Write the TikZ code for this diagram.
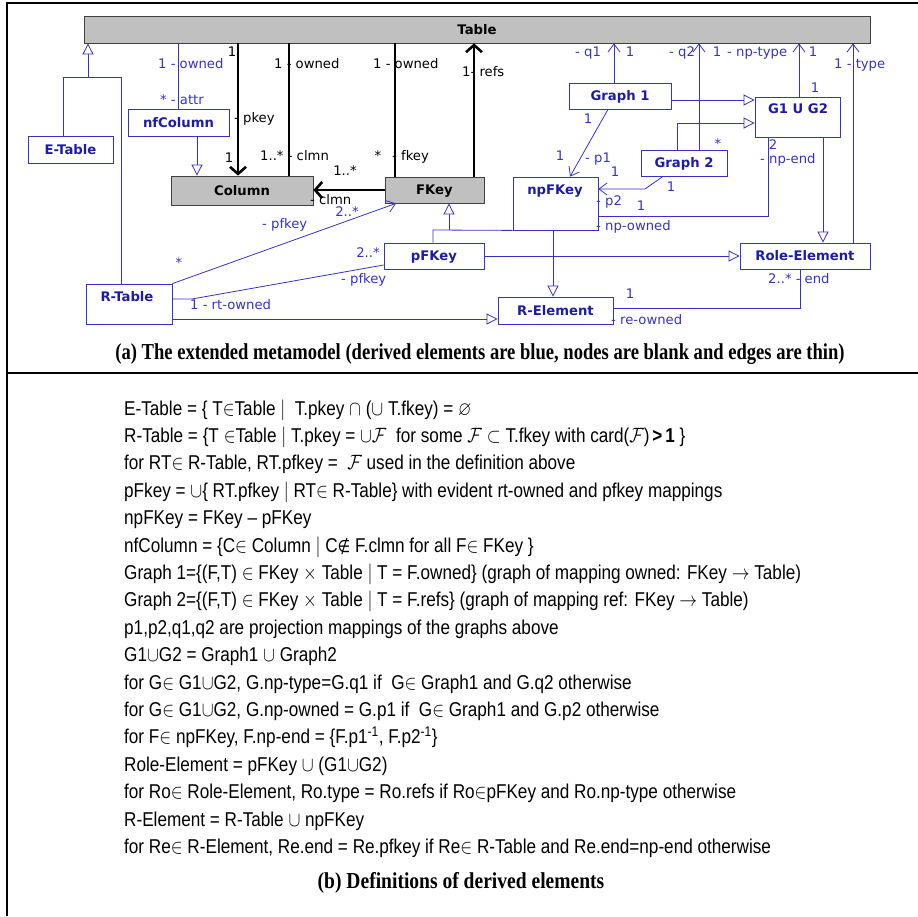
\documentclass[tikz,border=0pt]{standalone}
\usepackage{graphicx}
\usepackage{amssymb}
\usepackage{fontspec}
\setmainfont{Liberation Sans}
\newfontfamily\dv{DejaVu Sans}
\newfontfamily\capf{Liberation Serif}
\usetikzlibrary{arrows.meta}
\definecolor{umlblue}{RGB}{51,51,204}
\definecolor{umltext}{RGB}{28,28,168}
\definecolor{umlgray}{RGB}{192,192,192}
\newcommand{\dl}[1]{\scalebox{0.857}[1]{\fontsize{20}{24}\selectfont #1}}
\newcommand{\cpt}[2]{\scalebox{#1}[1]{\capf\bfseries\fontsize{22.8}{26}\selectfont #2}}
\begin{document}
\begin{tikzpicture}[x=1pt,y=-1pt,
  box/.style={draw=umlblue, line width=0.8pt, fill=white, inner sep=0pt,
    font=\dv\fontsize{13.2}{15}\selectfont\bfseries, text=umltext,
    text height=9.6pt, text depth=0pt},
  gbox/.style={draw=black!75, line width=0.8pt, fill=umlgray, inner sep=0pt,
    font=\dv\fontsize{13.2}{15}\selectfont\bfseries, text=black,
    text height=9.6pt, text depth=0pt},
  btext/.style={inner sep=0pt, font=\dv\fontsize{13.2}{15}\selectfont\bfseries,
    text=umltext, text height=9.6pt, text depth=0pt},
  lab/.style={inner sep=0pt, font=\dv\fontsize{13.2}{15}\selectfont,
    text=umlblue, text height=9.6pt, text depth=0pt},
  blab/.style={lab, text=black},
  bl/.style={draw=umlblue, line width=0.8pt},
  gen/.style={bl, -{Triangle[length=11pt,width=11pt,fill=white]}},
  nav/.style={bl, -{Straight Barb[length=8pt,width=12pt]}},
  blk/.style={draw=black, line width=2.6pt},
  blkarr/.style={blk, -{Straight Barb[length=7pt,width=16pt]}},
  defl/.style={inner sep=0pt, anchor=base west},
  capn/.style={inner sep=0pt, anchor=base}
]
\useasboundingbox (0,0) rectangle (918,916);
% frame
\draw[line width=1.2pt] (918,3) -- (7,3) -- (7,916);
\draw[line width=1.2pt] (7,373) -- (918,373);

% boxes
\node[gbox, minimum width=786pt, minimum height=27pt] (table) at (477,29.5) {Table};
\node[box, minimum width=85pt, minimum height=27pt] (etable) at (70.5,149.5) {E-Table};
\node[box, minimum width=101pt, minimum height=27pt] (nfcol) at (178.5,122.5) {nfColumn};
\node[gbox, minimum width=142pt, minimum height=29pt] (column) at (242,190.5) {Column};
\node[gbox, minimum width=99pt, minimum height=26pt] (fkey) at (434.5,190) {FKey};
\node[box, minimum width=86pt, minimum height=40pt] (rtable) at (129,304) {};
\node[btext] (rtableT) at (127,297) {R-Table};
\node[box, minimum width=85pt, minimum height=53pt] (npfkey) at (555.5,203.5) {};
\node[btext] (npfkeyT) at (555,190) {npFKey};
\node[box, minimum width=102pt, minimum height=26pt] (graph1) at (620,96) {Graph 1};
\node[box, minimum width=86pt, minimum height=26pt] (graph2) at (684,163) {Graph 2};
\node[box, minimum width=85pt, minimum height=40pt] (g1g2) at (797.5,117) {};
\node[btext] (g1g2T) at (798,109) {G1 U G2};
\node[box, minimum width=100pt, minimum height=26pt] (pfkey) at (434,256) {pFKey};
\node[box, minimum width=130pt, minimum height=26pt] (roleel) at (805,256) {Role-Element};
\node[box, minimum width=115pt, minimum height=27pt] (relem) at (555.5,310.5) {R-Element};

% helper coordinates
\coordinate (xE) at (63,0);
\coordinate (xR) at (121,0);
\coordinate (xG) at (88,0);
\coordinate (yJ) at (0,77);
\coordinate (nfX) at (178,0);
\coordinate (nfY) at (197,0);
\coordinate (xpk) at (238,0);
\coordinate (xow) at (289,0);
\coordinate (xfk) at (395,0);
\coordinate (xrf) at (474,0);
\coordinate (xq1) at (614,0);
\coordinate (xq2) at (699,0);
\coordinate (xnt) at (799,0);
\coordinate (xty) at (853,0);
\coordinate (xgr) at (823,0);
\coordinate (xne) at (768,0);
\coordinate (xg2) at (677,0);
\coordinate (xp1a) at (608,0);
\coordinate (xp1b) at (570,0);
\coordinate (xp2a) at (663,0);
\coordinate (xnr) at (553,0);
\coordinate (xpf) at (433,0);
\coordinate (xfg) at (449,0);
\coordinate (xre) at (800,0);
\coordinate (xrf2) at (396,0);
\coordinate (y100) at (0,100);
\coordinate (y123) at (0,123);
\coordinate (y216) at (0,216);
\coordinate (y230) at (0,230);
\coordinate (y299) at (0,299);
\coordinate (y265) at (0,265);
\coordinate (y319) at (0,319);
\coordinate (y308) at (0,308);
\coordinate (p2bend) at (645,189);
\coordinate (rtbend) at (192,299);

% connectors
\draw[bl] (xE |- etable.north) -- (xE |- yJ) -- (xR |- yJ) -- (xR |- rtable.north);
\draw[gen] (xG |- yJ) -- (xG |- table.south);
\draw[bl] (nfX |- nfcol.north) -- (nfX |- table.south);
\draw[gen] (nfY |- nfcol.south) -- (nfY |- column.north);
\draw[blkarr] (xpk |- table.south) -- (xpk |- column.north);
\draw[blk] (xow |- table.south) -- (xow |- column.north);
\draw[blk] (xfk |- table.south) -- (xfk |- fkey.north);
\draw[blkarr] (xrf |- fkey.north) -- (xrf |- table.south);
\draw[blkarr] (fkey.west) -- (fkey.west -| column.east);
\draw[nav] (xq1 |- graph1.north) -- (xq1 |- table.south);
\draw[gen] (graph1.east |- y100) -- (g1g2.west |- y100);
\draw[gen] (xg2 |- graph2.north) -- (xg2 |- y123) -- (g1g2.west |- y123);
\draw[nav] (xq2 |- graph2.north) -- (xq2 |- table.south);
\draw[nav] (xnt |- g1g2.north) -- (xnt |- table.south);
\draw[nav] (xty |- roleel.north) -- (xty |- table.south);
\draw[gen] (xgr |- g1g2.south) -- (xgr |- roleel.north);
\draw[bl] (xne |- g1g2.south) -- (xne |- y216) -- (npfkey.east |- y216);
\draw[nav] (xp1a |- graph1.south) -- (xp1b |- npfkey.north);
\draw[nav] (xp2a |- graph2.south) -- (p2bend) -- (npfkey.east |- p2bend);
\draw[gen] (xnr |- npfkey.south) -- (xnr |- relem.north);
\draw[bl] (xpf |- pfkey.north) -- (xpf |- y230) -- (npfkey.south west);
\draw[gen] (xfg |- y230) -- (xfg |- fkey.south);
\draw[gen] (pfkey.east) -- (roleel.west);
\draw[nav] (rtable.north east) -- (xrf2 |- fkey.south);
\draw[bl] (rtable.east |- y299) -- (rtbend) -- (pfkey.west |- y265);
\draw[gen] (rtable.east |- y319) -- (relem.west |- y319);
\draw[bl] (relem.east |- y308) -- (xre |- y308) -- (xre |- roleel.south);

% blue labels
\node[lab, anchor=west] (l1) at (158,64) {1 - owned};
\node[lab, anchor=west] (l2) at (160,100) {* - attr};
\node[lab, anchor=west] (l3) at (575,52) {- q1};
\node[lab] (l4) at (630,52) {1};
\node[lab, anchor=west] (l5) at (669,52) {- q2};
\node[lab] (l6) at (717,52) {1};
\node[lab] (l7) at (718,144) {*};
\node[lab, anchor=west] (l8) at (727,52) {- np-type};
\node[lab] (l9) at (813,52) {1};
\node[lab] (l10) at (815,88) {1};
\node[lab, anchor=west] (l11) at (834,64) {1 - type};
\node[lab] (l12) at (588,119) {1};
\node[lab] (l13) at (560,156) {1};
\node[lab, anchor=west] (l14) at (585,158) {- p1};
\node[lab] (l15) at (615,172) {1};
\node[lab] (l16) at (671,187) {1};
\node[lab, anchor=west] (l17) at (596,201) {- p2};
\node[lab] (l18) at (773,145) {2};
\node[lab, anchor=west] (l19) at (760,159) {- np-end};
\node[lab] (l20) at (641,206) {1};
\node[lab, anchor=west] (l21) at (596,226) {- np-owned};
\node[lab, anchor=west] (l22) at (262,224) {- pfkey};
\node[lab] (l23) at (347,212) {2..*};
\node[lab] (l24) at (179,263) {*};
\node[lab, anchor=west] (l25) at (190,305) {1 - rt-owned};
\node[lab] (l26) at (368,253) {2..*};
\node[lab, anchor=west] (l27) at (341,279) {- pfkey};
\node[lab] (l28) at (630,294) {1};
\node[lab, anchor=west] (l29) at (611,320) {- re-owned};
\node[lab, anchor=west] (l30) at (768,279) {2..* - end};

% black labels
\node[blab] (k1) at (232,52) {1};
\node[blab, anchor=west] (k2) at (234,118) {- pkey};
\node[blab] (k3) at (229,158) {1};
\node[blab, anchor=west] (k4) at (274,64) {1 - owned};
\node[blab, anchor=west] (k5) at (260,156) {1..* - clmn};
\node[blab, anchor=west] (k6) at (373,64) {1 - owned};
\node[blab] (k7) at (378,156) {*};
\node[blab, anchor=west] (k8) at (392,156) {- fkey};
\node[blab, anchor=west] (k9) at (462,72) {1- refs};
\node[blab] (k10) at (345,171) {1..*};
\node[blab, anchor=west] (k11) at (310,200) {- clmn};

% caption (a)
\node[capn] (capa) at (480,359) {\cpt{0.815}{(a) The extended metamodel (derived elements are blue, nodes are blank and edges are thin)}};

% definitions
\node[defl] (d1) at (124,415) {\dl{E-Table = \{ T$\in$Table $|$\ \ T.pkey $\cap$ ($\cup$ T.fkey) = $\varnothing$}};
\node[defl] (d2) at (124,442.4) {\dl{R-Table = \{T $\in$Table $|$ T.pkey = $\cup\mathcal{F}$\ \ for some $\mathcal{F}\subset$ T.fkey with card($\mathcal{F}$)\,\textbf{>\,1} \}}};
\node[defl] (d3) at (124,469.8) {\dl{for RT$\in$ R-Table, RT.pfkey =\ \ $\mathcal{F}$ used in the definition above}};
\node[defl] (d4) at (124,497.2) {\dl{pFkey = $\cup$\{ RT.pfkey $|$ RT$\in$ R-Table\} with evident rt-owned and pfkey mappings}};
\node[defl] (d5) at (124,524.6) {\dl{npFKey = FKey – pFKey}};
\node[defl] (d6) at (124,552) {\dl{nfColumn = \{C$\in$ Column $|$ C{\dv\fontsize{17}{20}\selectfont ∉} F.clmn for all F$\in$ FKey \}}};
\node[defl] (d7) at (124,579.4) {\dl{Graph 1=\{(F,T) $\in$ FKey $\times$ Table $|$ T = F.owned\} (graph of mapping owned: FKey $\rightarrow$ Table)}};
\node[defl] (d8) at (124,606.8) {\dl{Graph 2=\{(F,T) $\in$ FKey $\times$ Table $|$ T = F.refs\} (graph of mapping ref: FKey $\rightarrow$ Table)}};
\node[defl] (d9) at (124,634.2) {\dl{p1,p2,q1,q2 are projection mappings of the graphs above}};
\node[defl] (d10) at (124,661.6) {\dl{G1$\cup$G2 = Graph1 $\cup$ Graph2}};
\node[defl] (d11) at (124,689) {\dl{for G$\in$ G1$\cup$G2, G.np-type=G.q1 if\ \ G$\in$ Graph1 and G.q2 otherwise}};
\node[defl] (d12) at (124,716.4) {\dl{for G$\in$ G1$\cup$G2, G.np-owned = G.p1 if\ \ G$\in$ Graph1 and G.p2 otherwise}};
\node[defl] (d13) at (124,743.8) {\dl{for F$\in$ npFKey, F.np-end = \{F.p1\textsuperscript{-1}, F.p2\textsuperscript{-1}\}}};
\node[defl] (d14) at (124,771.2) {\dl{Role-Element = pFKey $\cup$ (G1$\cup$G2)}};
\node[defl] (d15) at (124,798.6) {\dl{for Ro$\in$ Role-Element, Ro.type = Ro.refs if Ro$\in$pFKey and Ro.np-type otherwise}};
\node[defl] (d16) at (124,826) {\dl{R-Element = R-Table $\cup$ npFKey}};
\node[defl] (d17) at (124,853.4) {\dl{for Re$\in$ R-Element, Re.end = Re.pfkey if Re$\in$ R-Table and Re.end=np-end otherwise}};

% caption (b)
\node[capn] (capb) at (461,888) {\cpt{0.857}{(b) Definitions of derived elements}};
\end{tikzpicture}
\end{document}
